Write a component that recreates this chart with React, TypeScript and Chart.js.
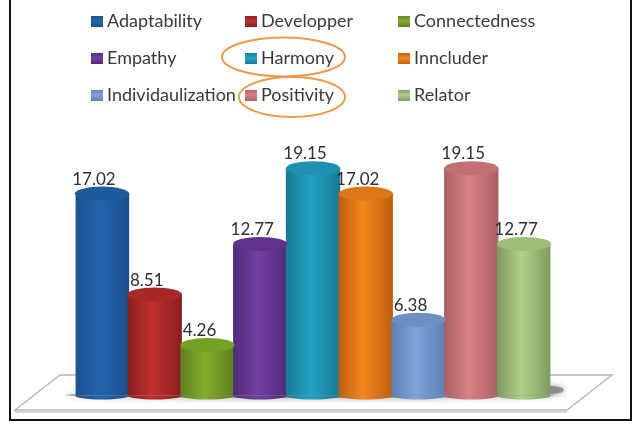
import React, { useEffect, useRef } from "react";
import { Chart, registerables } from "chart.js";

Chart.register(...registerables);

const categories = ["Adaptability", "Developper", "Connectedness", "Empathy", "Harmony", "Inncluder", "Individaulization", "Positivity", "Relator"];
const values = [17.02, 8.51, 4.26, 12.77, 19.15, 17.02, 6.38, 19.15, 12.77];
const valueLabels = ["17.02", "8.51", "4.26", "12.77", "19.15", "17.02", "6.38", "19.15", "12.77"];
const darkColors = ["#1b4f8e", "#8a1e1e", "#5f8020", "#4f2a78", "#177a94", "#bd5f0e", "#5b80b4", "#a86064", "#7c9a60"];
const midColors = ["#2565ae", "#c0302f", "#84ad2c", "#7440a2", "#24a2c4", "#f5861e", "#7fa3d8", "#d98183", "#b2d088"];
const capColors = ["#1f5a9e", "#a82727", "#75a024", "#603389", "#1f90b0", "#de7715", "#6c8fc4", "#c06f72", "#9dbd78"];
const legendCols = [91, 245, 398];
const legendRows = [21, 58, 95];
const FONT = "Lato, 'Open Sans', sans-serif";

const cylinderPlugin = {
  id: "cylinder",
  beforeDatasetsDraw(chart: any) {
    const { ctx } = chart;
    ctx.save();
    // floor
    ctx.strokeStyle = "#b8b8b8";
    ctx.fillStyle = "#ffffff";
    ctx.lineWidth = 1.4;
    ctx.beginPath();
    ctx.moveTo(60, 375);
    ctx.lineTo(612, 375);
    ctx.lineTo(567, 410);
    ctx.lineTo(15, 410);
    ctx.closePath();
    ctx.fill();
    ctx.stroke();
    ctx.strokeStyle = "#c8c8c8";
    ctx.beginPath();
    ctx.moveTo(15, 412);
    ctx.lineTo(567, 412);
    ctx.stroke();
    // shadow
    ctx.shadowColor = "rgba(60,60,60,0.7)";
    ctx.shadowBlur = 6;
    ctx.fillStyle = "rgba(120,120,120,0.7)";
    ctx.beginPath();
    ctx.ellipse(310, 395, 245, 3, 0, 0, Math.PI * 2);
    ctx.fill();
    ctx.beginPath();
    ctx.ellipse(551, 390, 13, 4, 0, 0, Math.PI * 2);
    ctx.fill();
    ctx.restore();
  },
  afterDatasetsDraw(chart: any) {
    const { ctx } = chart;
    const bars = chart.getDatasetMeta(0).data;
    ctx.save();
    bars.forEach((bar: any, i: number) => {
      const half = bar.width / 2;
      const g = ctx.createLinearGradient(bar.x - half, 0, bar.x + half, 0);
      g.addColorStop(0, darkColors[i]);
      g.addColorStop(0.45, midColors[i]);
      g.addColorStop(1, darkColors[i]);
      ctx.fillStyle = g;
      ctx.beginPath();
      ctx.ellipse(bar.x, bar.base, half, 4, 0, 0, Math.PI);
      ctx.fill();
      ctx.fillStyle = capColors[i];
      ctx.beginPath();
      ctx.ellipse(bar.x, bar.y, half, 7, 0, 0, Math.PI * 2);
      ctx.fill();
      ctx.fillStyle = "#2f2f2f";
      ctx.font = `17px ${FONT}`;
      ctx.textAlign = "center";
      ctx.textBaseline = "middle";
      ctx.fillText(valueLabels[i], bar.x - 8, bar.y - 14.5);
    });
    // legend
    categories.forEach((name, i) => {
      const x = legendCols[i % 3];
      const y = legendRows[Math.floor(i / 3)];
      const g = ctx.createLinearGradient(0, y - 6, 0, y + 6);
      g.addColorStop(0, darkColors[i]);
      g.addColorStop(0.5, midColors[i]);
      g.addColorStop(1, darkColors[i]);
      ctx.fillStyle = g;
      ctx.fillRect(x, y - 5, 12, 11);
      ctx.fillStyle = "#3a3a3a";
      ctx.font = `18px ${FONT}`;
      ctx.textAlign = "left";
      ctx.textBaseline = "middle";
      ctx.fillText(name, x + 16, y);
    });
    // highlight rings
    ctx.strokeStyle = "#ee9a4a";
    ctx.lineWidth = 2;
    ctx.beginPath();
    ctx.ellipse(283.5, 57, 61.5, 19.5, 0, 0, Math.PI * 2);
    ctx.stroke();
    ctx.beginPath();
    ctx.ellipse(292, 97, 53, 20, 0, 0, Math.PI * 2);
    ctx.stroke();
    // frame
    ctx.strokeStyle = "#111111";
    ctx.lineWidth = 2;
    ctx.beginPath();
    ctx.moveTo(10, 0);
    ctx.lineTo(10, 420);
    ctx.lineTo(631, 420);
    ctx.lineTo(631, 0);
    ctx.stroke();
    ctx.restore();
  },
};

export default function App() {
  const ref = useRef<HTMLCanvasElement>(null);
  useEffect(() => {
    document.body.style.margin = "0";
    const chart = new Chart(ref.current as HTMLCanvasElement, {
      type: "bar",
      data: {
        labels: categories,
        datasets: [
          {
            data: values,
            barPercentage: 1.03,
            categoryPercentage: 1,
            backgroundColor: (c: any) => {
              const ch = c.chart;
              if (!ch.chartArea || !ch.scales.x) return midColors[c.dataIndex];
              const x = ch.scales.x.getPixelForValue(c.dataIndex);
              const half = 27;
              const g = ch.ctx.createLinearGradient(x - half, 0, x + half, 0);
              g.addColorStop(0, darkColors[c.dataIndex]);
              g.addColorStop(0.45, midColors[c.dataIndex]);
              g.addColorStop(1, darkColors[c.dataIndex]);
              return g;
            },
          },
        ],
      },
      options: {
        animation: false,
        responsive: false,
        layout: { padding: { left: 75.6, right: 83.6, top: 134.5, bottom: 32.5 } },
        plugins: { legend: { display: false }, tooltip: { enabled: false } },
        scales: {
          x: { display: false },
          y: { display: false, min: 0, max: 22 },
        },
      },
      plugins: [cylinderPlugin],
    } as any);
    return () => chart.destroy();
  }, []);
  return (
    <div style={{ position: "absolute", left: 0, top: 0, width: 634, height: 428, background: "#fff" }}>
      <canvas ref={ref} width={634} height={428} style={{ display: "block", filter: "blur(0.5px)" }} />
    </div>
  );
}
